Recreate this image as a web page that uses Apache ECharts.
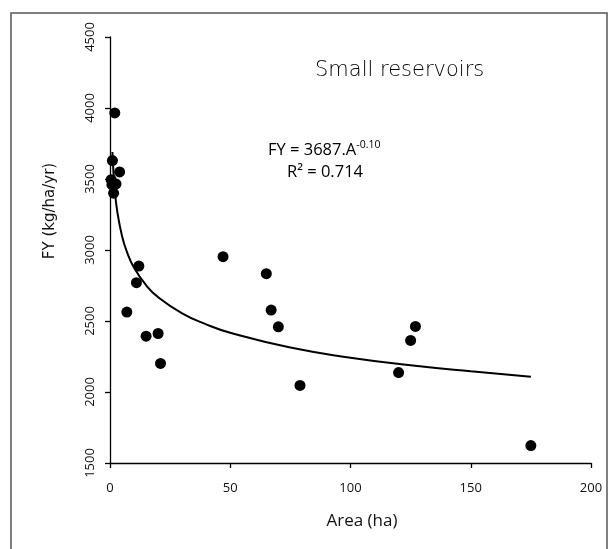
<!DOCTYPE html>
<html>
<head>
<meta charset="utf-8">
<script src="https://cdn.jsdelivr.net/npm/echarts@6/dist/echarts.min.js"></script>
<style>
html,body{margin:0;padding:0;background:#fff;}
#chart{width:608px;height:549px;}
</style>
</head>
<body>
<div id="chart"></div>
<script>
// Observed reservoirs: area (ha) and fish yield (kg/ha/yr)
var areaValues = [2, 1, 4, 0.5, 2.5, 1.5, 0.8, 7, 11, 12, 15, 20, 21, 47, 65, 67, 70, 79, 120, 125, 127, 175];
var fyValues   = [3965, 3630, 3550, 3495, 3465, 3400, 3460, 2563, 2770, 2887, 2393, 2412, 2201, 2953, 2833, 2577, 2459, 2046, 2137, 2363, 2462, 1623];
// Trend curve points
var trendArea = [1, 1.5, 2, 3, 5, 7, 10, 15, 20, 30, 40, 50, 75, 100, 125, 150, 175];
var trendFY   = [3690, 3529, 3421, 3274, 3099, 2988, 2875, 2752, 2668, 2554, 2476, 2417, 2313, 2242, 2189, 2146, 2108];
var xTicks = [0, 50, 100, 150, 200];
var yTicks = [1500, 2000, 2500, 3000, 3500, 4000, 4500];
var titleText = 'Small reservoirs';
var eqMain = 'FY = 3687.A';
var eqExp = '-0.10';
var r2Text = 'R² = 0.714';
var xName = 'Area (ha)';
var yName = 'FY (kg/ha/yr)';

var points = areaValues.map(function (a, i) { return [a, fyValues[i]]; });
var trend = trendArea.map(function (a, i) { return [a, trendFY[i]]; });

var font = '"Open Sans", "Liberation Sans", sans-serif';
var chart = echarts.init(document.getElementById('chart'), null, {renderer: 'canvas'});
chart.setOption({
  animation: false,
  backgroundColor: '#fff',
  grid: {left: 110, right: 17, top: 37, bottom: 86, containLabel: false},
  xAxis: {
    type: 'value', min: xTicks[0], max: xTicks[xTicks.length - 1], interval: 50,
    axisLine: {show: true, lineStyle: {color: '#000', width: 1.3}},
    axisTick: {show: true, inside: false, length: 5, lineStyle: {color: '#000', width: 1.3}},
    axisLabel: {fontFamily: font, fontSize: 13, color: '#111', margin: 19},
    splitLine: {show: false}
  },
  yAxis: {
    type: 'value', min: yTicks[0], max: yTicks[yTicks.length - 1], interval: 500,
    axisLine: {show: true, lineStyle: {color: '#000', width: 1.3}},
    axisTick: {show: true, inside: false, length: 5, lineStyle: {color: '#000', width: 1.3}},
    axisLabel: {fontFamily: font, fontSize: 13, color: '#111', rotate: 90, margin: 13,
      formatter: function (v) { return String(v); }},
    splitLine: {show: false}
  },
  series: [
    {
      type: 'line', data: trend, smooth: true, showSymbol: false, symbol: 'none',
      lineStyle: {color: '#000', width: 2}, z: 2
    },
    {
      type: 'scatter', data: points, symbol: 'circle', symbolSize: 11,
      itemStyle: {color: '#000', opacity: 1}, z: 3
    }
  ],
  graphic: [
    {type: 'rect', shape: {x: 11, y: 13, width: 596, height: 560},
     style: {fill: 'none', stroke: '#555', lineWidth: 1.5}, silent: true, z: -1},
    {type: 'text', x: 315, y: 71,
     style: {text: titleText, font: '200 21px "DejaVu Sans", sans-serif', fill: '#000', verticalAlign: 'middle', align: 'left'}},
    {type: 'text', x: 268, y: 150,
     style: {
       text: '{m|' + eqMain + '}{s|' + eqExp + '}',
       verticalAlign: 'middle', align: 'left',
       rich: {
         m: {fontFamily: font, fontSize: 16.5, fill: '#000', color: '#000'},
         s: {fontFamily: font, fontSize: 10.5, fill: '#000', color: '#000', verticalAlign: 'top', padding: [0, 0, 9, 0]}
       }
     }},
    {type: 'text', x: 287, y: 172,
     style: {text: r2Text, font: '16.5px ' + font, fill: '#000', verticalAlign: 'middle', align: 'left'}},
    {type: 'text', x: 362, y: 521,
     style: {text: xName, font: '17px ' + font, fill: '#111', verticalAlign: 'middle', align: 'center'}},
    {type: 'text', x: 50.5, y: 211, rotation: Math.PI / 2,
     style: {text: yName, font: '15px "DejaVu Sans", sans-serif', fill: '#111', verticalAlign: 'middle', align: 'center'}}
  ]
});
</script>
</body>
</html>
